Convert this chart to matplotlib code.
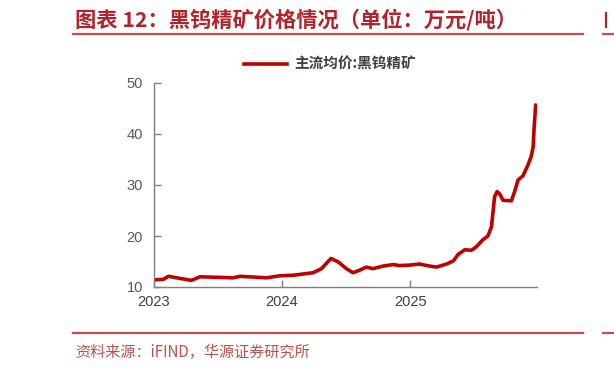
import matplotlib
matplotlib.use("Agg")
import matplotlib.pyplot as plt
from matplotlib.lines import Line2D
import pandas as pd

plt.rcParams['font.family'] = ['Noto Sans CJK SC', 'DejaVu Sans']

dates = ["2023-01-01", "2023-01-28", "2023-02-11", "2023-03-07", "2023-04-09", "2023-04-18",
         "2023-05-12", "2023-06-29", "2023-08-15", "2023-09-03", "2023-11-18", "2023-12-26",
         "2024-02-02", "2024-03-30", "2024-04-23", "2024-05-20", "2024-06-10", "2024-07-03",
         "2024-07-22", "2024-08-10", "2024-08-29", "2024-09-17", "2024-10-16", "2024-11-13",
         "2024-12-02", "2024-12-31", "2025-01-28", "2025-02-26", "2025-03-17", "2025-04-15",
         "2025-05-04", "2025-05-18", "2025-06-06", "2025-06-25", "2025-07-09", "2025-07-28",
         "2025-08-11", "2025-08-21", "2025-08-30", "2025-09-06", "2025-09-14", "2025-09-23",
         "2025-10-17", "2025-10-26", "2025-11-05", "2025-11-19", "2025-12-03", "2025-12-13",
         "2025-12-18", "2025-12-21", "2025-12-23", "2025-12-25"]
prices = [11.4, 11.5, 12.1, 11.8, 11.4, 11.3,
          12.0, 11.9, 11.8, 12.1, 11.8, 12.2,
          12.3, 12.8, 13.6, 15.6, 14.9, 13.6,
          12.8, 13.3, 13.9, 13.6, 14.1, 14.4,
          14.2, 14.3, 14.5, 14.1, 13.9, 14.5,
          15.1, 16.4, 17.3, 17.2, 17.9, 19.3,
          20.0, 21.8, 27.7, 28.7, 28.2, 27.0,
          26.9, 28.7, 31.0, 31.8, 33.9, 35.7,
          37.5, 41.5, 43.4, 45.7]
series_name = "主流均价:黑钨精矿"
title = "图表 12：黑钨精矿价格情况（单位：万元/吨）"
source = "资料来源：iFIND，华源证券研究所"
year_ticks = ["2023-01-01", "2024-01-01", "2025-01-01"]
year_labels = ["2023", "2024", "2025"]
y_ticks = [10, 20, 30, 40, 50]

x = pd.to_datetime(dates)

fig = plt.figure(figsize=(6.14, 3.72), dpi=100)
ax = fig.add_axes([154/614, 1-287/372, (537-154)/614, (287-83)/372])

line_color = "#C00000"
ax.plot(x, prices, color=line_color, lw=2.6, solid_joinstyle="round", solid_capstyle="round",
        label=series_name)

ax.set_xlim(pd.Timestamp("2023-01-01"), pd.Timestamp("2025-12-29"))
ax.set_ylim(10, 50)
ax.set_yticks(y_ticks)
ax.set_xticks(pd.to_datetime(year_ticks))
ax.set_xticklabels(year_labels)

for s in ["top", "right"]:
    ax.spines[s].set_visible(False)
for s in ["left", "bottom"]:
    ax.spines[s].set_color("#7F7F7F")
    ax.spines[s].set_linewidth(1.0)

ax.tick_params(axis="both", direction="in", length=5, color="#7F7F7F", width=1.0)
ax.tick_params(axis="y", labelsize=10.5, labelcolor="#595959", pad=8)
ax.tick_params(axis="x", labelsize=10.5, labelcolor="#404040", pad=6)
for lab in ax.get_xticklabels() + ax.get_yticklabels():
    lab.set_family(["Liberation Sans", "DejaVu Sans"])

leg = fig.legend(handles=[Line2D([0], [0], color=line_color, lw=2.6)], labels=[series_name],
                 loc="center", bbox_to_anchor=(330/614, 1-64/372), frameon=False,
                 handlelength=3.0, handletextpad=0.5,
                 prop={"family": ["Noto Sans CJK SC", "DejaVu Sans"], "weight": "bold", "size": 10.5})
for t in leg.get_texts():
    t.set_color("#404040")

title_color = "#B0242A"
rule_color = "#C0504D"
fig.text(75/614, 1-20/372, title, color=title_color, fontsize=15.3, fontweight="bold",
         va="center", ha="left")
fig.add_artist(Line2D([73/614, 583/614], [1-34/372, 1-34/372], color=rule_color, lw=1.6))
fig.add_artist(Line2D([73/614, 583/614], [1-333/372, 1-333/372], color=rule_color, lw=1.6))
fig.add_artist(Line2D([603/614, 1.0], [1-34/372, 1-34/372], color=rule_color, lw=1.6))
fig.add_artist(Line2D([603/614, 1.0], [1-333/372, 1-333/372], color=rule_color, lw=1.6))
fig.add_artist(Line2D([606/614, 606/614], [1-13/372, 1-27/372], color=title_color, lw=1.6))
fig.text(75/614, 1-352/372, source, color=rule_color, fontsize=10.9, va="center", ha="left")

fig.savefig("out.png", dpi=100)
